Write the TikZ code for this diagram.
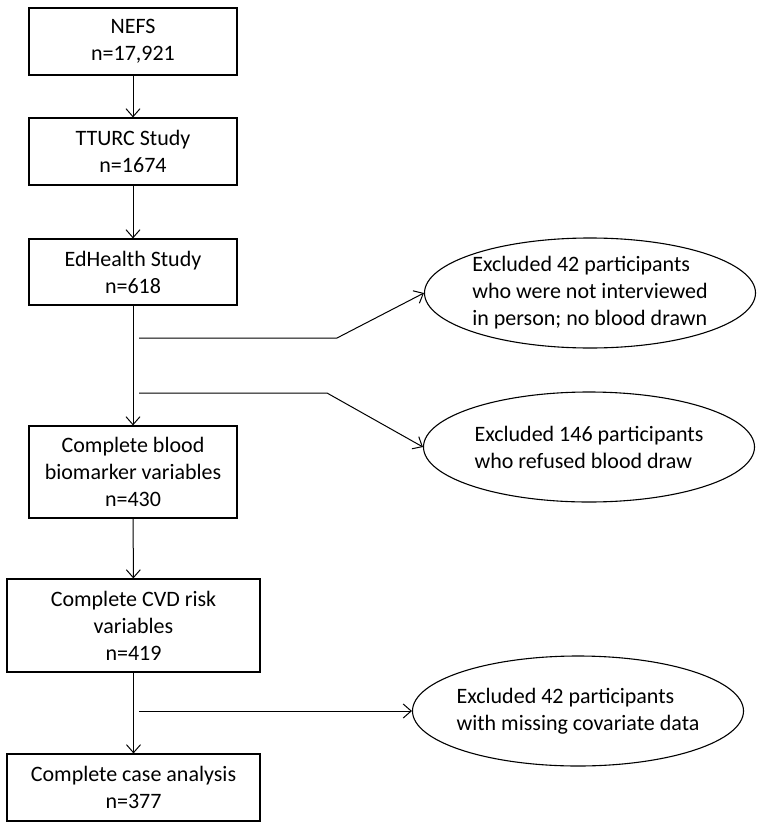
\documentclass[tikz,border=0pt]{standalone}
\usepackage{fontspec}
\setmainfont{Carlito}
\usepackage{tikz}
\usetikzlibrary{positioning, arrows.meta, shapes.geometric}

\tikzset{
    box/.style={rectangle, draw, line width=1.1pt, align=center, minimum width=208pt, inner sep=0pt},
    excl/.style={ellipse, draw, line width=1.1pt, align=left, minimum width=331pt, minimum height=110pt, inner sep=-8pt},
    arr/.style={-{Straight Barb[length=8pt, width=14pt]}, line width=1pt}
}

\begin{document}
\begin{tikzpicture}[x=1pt, y=-1pt, font=\fontsize{22}{27}\selectfont]
                \useasboundingbox (0,0) rectangle (762,827);
                \node[box, minimum height=67pt] (nefs) at (133,41.5) {NEFS\\n=17,921};
                \node[box, minimum height=67pt] (tturc) at (133,151.5) {TTURC Study\\n=1674};
                \node[box, minimum height=66pt] (edh) at (133,272) {EdHealth Study\\n=618};
                \node[box, minimum height=92pt] (blood) at (133,472) {Complete blood\\biomarker variables\\n=430};
                \node[box, minimum width=253pt, minimum height=93pt] (cvd) at (133.5,625.5) {Complete CVD risk\\variables\\n=419};
                \node[box, minimum width=253pt, minimum height=67pt] (cca) at (133.5,787.5) {Complete case analysis\\n=377};
                \node[excl] (ex1) at (590,293) {Excluded 42 participants\\who were not interviewed\\in person; no blood drawn};
                \node[excl] (ex2) at (589,447) {Excluded 146 participants\\who refused blood draw};
                \node[excl] (ex3) at (578,711) {Excluded 42 participants\\with missing covariate data};
                \draw[arr] (nefs) -- (tturc);
                \draw[arr] (tturc) -- (edh);
                \draw[arr] (edh) -- (blood);
                \draw[arr] (blood) -- (cvd);
                \draw[arr] (cvd) -- (cca);
                % side branches
                \coordinate (s1) at (139,338);
                \coordinate (k1) at (337,338);
                \coordinate (s2) at (139,393);
                \coordinate (k2) at (327,393);
                \coordinate (s3) at (139,711);
                \draw[arr] (s1) -- (k1) -- (ex1.west);
                \draw[arr] (s2) -- (k2) -- (ex2.west);
                \draw[arr] (s3) -- (ex3.west);
            \end{tikzpicture}
\end{document}
